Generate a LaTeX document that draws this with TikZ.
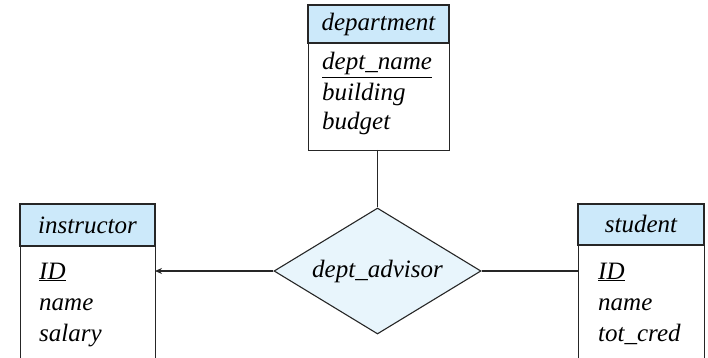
\documentclass[tikz,border=0pt]{standalone}
\usepackage{fontspec}
\setmainfont{Liberation Serif}
\usetikzlibrary{shapes.geometric,arrows.meta}
\definecolor{hdr}{RGB}{204,233,250}
\definecolor{dia}{RGB}{232,245,252}
\begin{document}
\begin{tikzpicture}[x=1pt,y=-1pt,
  box/.style={draw=black!85,line width=1.1pt},
  hdrbox/.style={box,fill=hdr},
  ent/.style={font=\fontsize{25}{30}\selectfont\itshape,inner sep=0pt},
  attr/.style={ent,anchor=base west},
  conn/.style={draw=black!85,line width=1.1pt}]
\useasboundingbox (0,0) rectangle (708,358);
\clip (0,0) rectangle (708,358);
% department
\path[hdrbox] (308,5) rectangle (449,43);
\node[box,minimum width=141pt,minimum height=107pt,inner sep=0pt,anchor=north west] (deptbody) at (308,43) {};
\node[ent] (depth) at (378.5,24) {department};
\node[attr] (d1) at (322,70) {\underline{dept\_name}};
\node[attr] (d2) at (322,101) {building};
\node[attr] (d3) at (322,130) {budget};
% instructor
\path[hdrbox] (20,204) rectangle (155,246);
\node[box,minimum width=135pt,minimum height=130pt,inner sep=0pt,anchor=north west] (instbody) at (20,246) {};
\node[ent] (insth) at (87.5,225) {instructor};
\node[attr] (i1) at (39,279) {\underline{ID}};
\node[attr] (i2) at (39,310) {name};
\node[attr] (i3) at (39,341) {salary};
% student
\path[hdrbox] (578,204) rectangle (704,245);
\node[box,minimum width=126pt,minimum height=130pt,inner sep=0pt,anchor=north west] (studbody) at (578,245) {};
\node[ent] (studh) at (641,224) {student};
\node[attr] (s1) at (598,279) {\underline{ID}};
\node[attr] (s2) at (598,310) {name};
\node[attr] (s3) at (598,341) {tot\_cred};
% relationship
\node[diamond,draw=black!85,line width=1.1pt,fill=dia,minimum width=207pt,minimum height=126pt,inner sep=0pt,aspect=1.64] (rel) at (377.5,271) {};
\node[ent] (relt) at (377.5,271) {dept\_advisor};
% connectors
\coordinate (depbot) at (377.5,150);
\draw[conn] (depbot) -- (rel.north);
\coordinate (instr) at (155,271);
\draw[conn,-{Stealth[length=7pt,width=6pt]}] (rel.west) -- (instr);
\coordinate (studl) at (578,271);
\draw[conn] (rel.east) -- (studl);
\end{tikzpicture}
\end{document}
